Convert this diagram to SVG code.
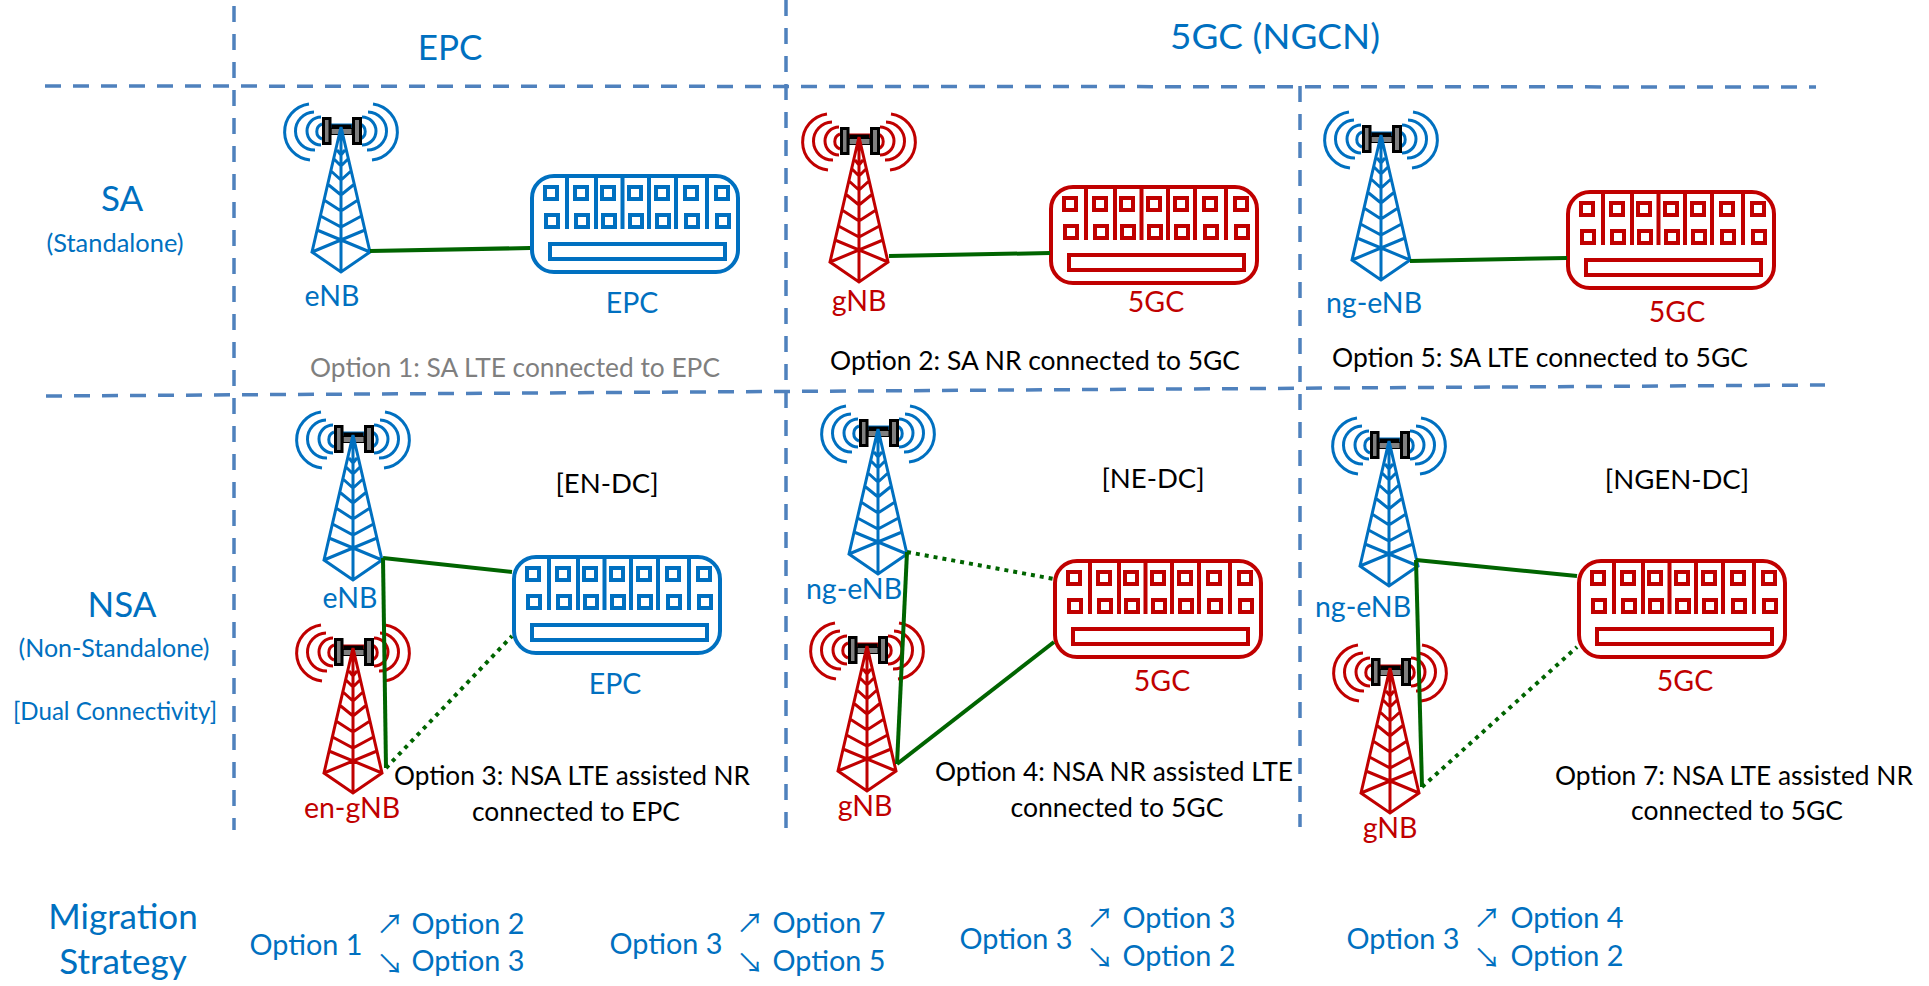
<svg xmlns="http://www.w3.org/2000/svg" width="1929" height="986" viewBox="0 0 1929 986">
<style>
text{font-family:Lato,"Liberation Sans",sans-serif;font-size:26.600px;fill:#000;text-anchor:middle}
.b{fill:#0070c0}.r{fill:#c00000}.g{fill:#7f7f7f}
.big{font-size:35px}.mid{font-size:35px}.sm{font-size:25px}.lab{font-size:28.500px}.opt{font-size:28.800px}.dc{font-size:27.500px}
.arr{font-family:"Noto Sans CJK JP",sans-serif;font-size:27.500px}
.sb{stroke:#0070c0}.sr{stroke:#c00000}
.grid line{stroke:#4f81bd;stroke-width:3.500;stroke-dasharray:16 12;fill:none}
.conn line{stroke:#006400;stroke-width:4;fill:none}
.conn .dot{stroke-dasharray:4 5}
.tw{fill:none;stroke-width:3}
.cr{fill:none;stroke-width:4}
</style>
<defs>
<g id="tower">
<path class="tw" d="M-32 -23A28.200 28.200 0 0 0 -31 33M32 -23A28.200 28.200 0 0 1 31 33M-27 -15A19 19 0 0 0 -26 23M27 -15A19 19 0 0 1 26 23M-20 -10A14 14 0 0 0 -20 18M21 -10A14 14 0 0 1 21 18M-19 -3A8 8 0 0 0 -19 12M19 -3A8 8 0 0 1 19 12"/>
<rect x="-10" y="-3" width="21" height="4.500" fill="#000"/>
<rect x="-10" y="1.500" width="21" height="6" fill="#808080" stroke="#000" stroke-width="1"/>
<g stroke="#000" stroke-width="3" fill="#808080">
<rect x="-17.500" y="-8.500" width="6.500" height="25"/>
<rect x="12.500" y="-8.500" width="7" height="25"/>
</g>
<path class="tw" d="M0 0L-29 125L0 145L29 125ZM0 0V145M-29 125L24 103M29 125L-24 103M-4 23L0 28L4 23M-7 32L0 39L7 32M-10 44L0 53L10 44M-13.500 57L0 68L13.500 57M-17 73L0 84L17 73M-20.500 89L0 100L20.500 89"/>
</g>
<g id="core">
<g class="cr">
<rect x="2" y="2" width="206" height="96" rx="22"/>
<path d="M37 2V55M66 2V55M92.500 2V55M119 2V55M146 2V55M177 2V55"/>
<rect x="15" y="13" width="12" height="12"/><rect x="45" y="13" width="12" height="12"/><rect x="72" y="13" width="12" height="12"/><rect x="99" y="13" width="12" height="12"/><rect x="126" y="13" width="12" height="12"/><rect x="155" y="13" width="12" height="12"/><rect x="186" y="13" width="12" height="12"/>
<rect x="16" y="41" width="12" height="12"/><rect x="46" y="41" width="12" height="12"/><rect x="73" y="41" width="12" height="12"/><rect x="100" y="41" width="12" height="12"/><rect x="127" y="41" width="12" height="12"/><rect x="156" y="41" width="12" height="12"/><rect x="187" y="41" width="12" height="12"/>
<rect x="20" y="70" width="175" height="15"/>
</g>
</g>
</defs>
<g class="grid" id="grid">
<line x1="234" y1="6" x2="234" y2="830"/>
<line x1="786" y1="0" x2="786" y2="836"/>
<line x1="1300" y1="86" x2="1300" y2="827"/>
<line x1="45" y1="86" x2="1816" y2="87"/>
<line x1="46" y1="396" x2="1825" y2="385"/>
</g>
<g id="headers">
<text class="big b" x="450" y="60">EPC</text>
<text class="big b" x="1275" y="49" textLength="210" lengthAdjust="spacingAndGlyphs">5GC (NGCN)</text>
<text class="big b" x="122" y="211">SA</text>
<text class="sm b" x="115" y="252" textLength="137" lengthAdjust="spacingAndGlyphs">(Standalone)</text>
<text class="sm b" x="114" y="657" textLength="191" lengthAdjust="spacingAndGlyphs">(Non-Standalone)</text>
<text class="big b" x="122" y="617">NSA</text>
<text class="sm b" x="115" y="720" textLength="204" lengthAdjust="spacingAndGlyphs">[Dual Connectivity]</text>
</g>
<g id="enb-sa"><use href="#tower" class="sb" x="341" y="127"/><text class="lab b" x="332" y="306">eNB</text></g>
<g id="epc-sa"><use href="#core" class="sb" x="530" y="174"/><text class="lab b" x="632" y="313">EPC</text></g>
<g id="gnb-sa"><use href="#tower" class="sr" x="859" y="137"/><text class="lab r" x="859" y="311">gNB</text></g>
<g id="5gc-sa2"><use href="#core" class="sr" x="1049" y="185"/><text class="lab r" x="1156" y="312">5GC</text></g>
<g id="ngenb-sa"><use href="#tower" class="sb" x="1381" y="135"/><text class="lab b" x="1374" y="313">ng-eNB</text></g>
<g id="5gc-sa5"><use href="#core" class="sr" x="1566" y="190"/><text class="lab r" x="1677" y="322">5GC</text></g>
<g id="enb-nsa"><use href="#tower" class="sb" x="353" y="435"/><text class="lab b" x="350" y="608">eNB</text></g>
<g id="engnb"><use href="#tower" class="sr" x="353" y="648"/><text class="lab r" x="352" y="818">en-gNB</text></g>
<g id="epc-nsa"><use href="#core" class="sb" x="512" y="555"/><text class="lab b" x="615" y="694">EPC</text></g>
<g id="ngenb-nsa4"><use href="#tower" class="sb" x="878" y="429"/><text class="lab b" x="854" y="599">ng-eNB</text></g>
<g id="gnb-nsa4"><use href="#tower" class="sr" x="867" y="646"/><text class="lab r" x="865" y="816">gNB</text></g>
<g id="5gc-nsa4"><use href="#core" class="sr" x="1053" y="559"/><text class="lab r" x="1162" y="691">5GC</text></g>
<g id="ngenb-nsa7"><use href="#tower" class="sb" x="1389" y="441"/><text class="lab b" x="1363" y="617">ng-eNB</text></g>
<g id="gnb-nsa7"><use href="#tower" class="sr" x="1390" y="668"/><text class="lab r" x="1390" y="838">gNB</text></g>
<g id="5gc-nsa7"><use href="#core" class="sr" x="1577" y="559"/><text class="lab r" x="1685" y="691">5GC</text></g>
<g class="conn" id="connectors">
<line x1="370" y1="251" x2="530" y2="248"/>
<line x1="889" y1="256" x2="1050" y2="253"/>
<line x1="1410" y1="261" x2="1567" y2="258"/>
<line x1="383" y1="558" x2="512" y2="572"/>
<line x1="383" y1="558" x2="386" y2="768"/>
<line class="dot" x1="386" y1="768" x2="512" y2="636"/>
<line class="dot" x1="907" y1="552" x2="1054" y2="579"/>
<line x1="907" y1="552" x2="897" y2="764"/>
<line x1="897" y1="764" x2="1054" y2="642"/>
<line x1="1416" y1="560" x2="1577" y2="576"/>
<line x1="1416" y1="560" x2="1422" y2="787"/>
<line class="dot" x1="1422" y1="787" x2="1577" y2="647"/>
</g>
<g id="captions">
<text class="g" x="515" y="377" textLength="410" lengthAdjust="spacingAndGlyphs">Option 1: SA LTE connected to EPC</text>
<text x="1035" y="370" textLength="410" lengthAdjust="spacingAndGlyphs">Option 2: SA NR connected to 5GC</text>
<text x="1540" y="367" textLength="416" lengthAdjust="spacingAndGlyphs">Option 5: SA LTE connected to 5GC</text>
<text class="dc" x="607" y="493">[EN-DC]</text>
<text class="dc" x="1153" y="488">[NE-DC]</text>
<text class="dc" x="1677" y="489">[NGEN-DC]</text>
<text x="572" y="785" textLength="356" lengthAdjust="spacingAndGlyphs">Option 3: NSA LTE assisted NR</text>
<text x="576" y="821" textLength="208" lengthAdjust="spacingAndGlyphs">connected to EPC</text>
<text x="1114" y="781" textLength="358" lengthAdjust="spacingAndGlyphs">Option 4: NSA NR assisted LTE</text>
<text x="1117" y="817" textLength="213" lengthAdjust="spacingAndGlyphs">connected to 5GC</text>
<text x="1734" y="785" textLength="358" lengthAdjust="spacingAndGlyphs">Option 7: NSA LTE assisted NR</text>
<text x="1737" y="820" textLength="212" lengthAdjust="spacingAndGlyphs">connected to 5GC</text>
</g>
<g id="migration">
<text class="mid b" x="123" y="929">Migration</text>
<text class="mid b" x="123" y="974">Strategy</text>
<text class="opt b" x="306" y="955">Option 1</text>
<text class="b arr" x="390" y="934">↗</text><text class="opt b" x="468" y="934">Option 2</text>
<text class="b arr" x="390" y="974">↘</text><text class="opt b" x="468" y="971">Option 3</text>
<text class="opt b" x="666" y="954">Option 3</text>
<text class="b arr" x="750" y="933">↗</text><text class="opt b" x="829" y="933">Option 7</text>
<text class="b arr" x="750" y="973">↘</text><text class="opt b" x="829" y="971">Option 5</text>
<text class="opt b" x="1016" y="949">Option 3</text>
<text class="b arr" x="1100" y="928">↗</text><text class="opt b" x="1179" y="928">Option 3</text>
<text class="b arr" x="1100" y="968">↘</text><text class="opt b" x="1179" y="966">Option 2</text>
<text class="opt b" x="1403" y="949">Option 3</text>
<text class="b arr" x="1487" y="928">↗</text><text class="opt b" x="1567" y="928">Option 4</text>
<text class="b arr" x="1487" y="968">↘</text><text class="opt b" x="1567" y="966">Option 2</text>
</g>
</svg>
